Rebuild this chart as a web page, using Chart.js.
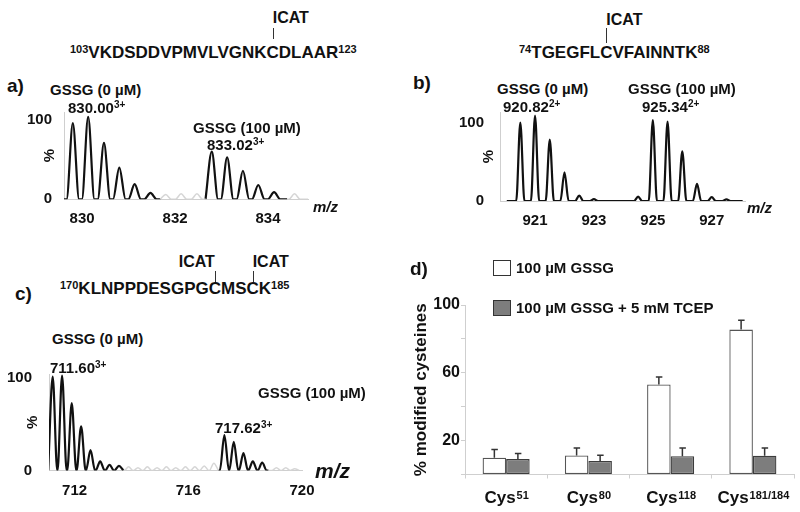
<!DOCTYPE html>
<html lang="en"><head><meta charset="utf-8"><title>ICAT labelling of cysteines</title>
<script src="https://cdn.jsdelivr.net/npm/chart.js@4.4.1/dist/chart.umd.min.js"></script>
<style>
html,body{margin:0;padding:0;background:#fff;}
body{width:800px;height:512px;position:relative;overflow:hidden;font-family:"Liberation Sans",Arial,Helvetica,sans-serif;font-weight:bold;color:#111;}
canvas{position:absolute;}
.t{position:absolute;white-space:nowrap;line-height:1;}
.f15{font-size:15px;}
.f17{font-size:17px;}
.f19{font-size:19px;}
.s{font-size:11px;position:relative;top:-4.5px;}
.m{font-size:10px;position:relative;top:-5px;}
.mk{position:relative;}
.mk .ln{position:absolute;left:50%;width:1px;background:#333;}
.mk .lb{position:absolute;font-size:16px;line-height:1;}
.mz{font-style:italic;}
.box{position:absolute;width:16px;height:14px;border:1px solid #333;}
</style></head>
<body>
<canvas id="ca" width="340" height="125" style="left:0;top:100px"></canvas>
<canvas id="cb" width="340" height="125" style="left:440px;top:100px"></canvas>
<canvas id="cc" width="360" height="140" style="left:0;top:360px"></canvas>
<canvas id="cd" width="400" height="262" style="left:400px;top:250px"></canvas>

<!-- panel a -->
<div class="t f19" style="left:7px;top:75.7px">a)</div>
<div class="t f17" style="left:70px;top:43.7px"><span class="s">103</span>VKDSDDVPMVLVGNK<span class="mk">C<i class="ln" style="top:-14.7px;height:11px"></i><span class="lb" style="left:50%;top:-32.5px">ICAT</span></span>DLAAR<span class="s">123</span></div>
<div class="t f15" style="left:50px;top:81.7px">GSSG (0 µM)</div>
<div class="t f15" style="left:68px;top:99.7px">830.00<span class="m">3+</span></div>
<div class="t f15" style="left:193px;top:119.7px">GSSG (100 µM)</div>
<div class="t f15" style="left:207px;top:136.7px">833.02<span class="m">3+</span></div>
<div class="t f15 mz" style="left:313px;top:199.2px">m/z</div>

<!-- panel b -->
<div class="t f19" style="left:413px;top:72.7px">b)</div>
<div class="t f17" style="left:519px;top:43.7px"><span class="s">74</span>TGEGFL<span class="mk">C<i class="ln" style="top:-14.7px;height:15px"></i><span class="lb" style="left:50%;top:-30.5px">ICAT</span></span>VFAINNTK<span class="s">88</span></div>
<div class="t f15" style="left:497px;top:80.7px">GSSG (0 µM)</div>
<div class="t f15" style="left:503px;top:98.7px">920.82<span class="m">2+</span></div>
<div class="t f15" style="left:628px;top:80.7px">GSSG (100 µM)</div>
<div class="t f15" style="left:642px;top:98.7px">925.34<span class="m">2+</span></div>
<div class="t f15 mz" style="left:747px;top:200.2px">m/z</div>

<!-- panel c -->
<div class="t f19" style="left:15px;top:283.7px">c)</div>
<div class="t f17" style="left:60px;top:279.7px"><span class="s">170</span>KLNPPDESGPG<span class="mk">C<i class="ln" style="top:-8px;height:11px"></i><span class="lb" style="right:50%;top:-24.8px">ICAT</span></span>MS<span class="mk">C<i class="ln" style="top:-8px;height:11px"></i><span class="lb" style="left:50%;top:-24.8px">ICAT</span></span>K<span class="s">185</span></div>
<div class="t f15" style="left:52px;top:330.7px">GSSG (0 µM)</div>
<div class="t f15" style="left:50px;top:359.7px">711.60<span class="m">3+</span></div>
<div class="t f15" style="left:258px;top:384.7px">GSSG (100 µM)</div>
<div class="t f15" style="left:215px;top:419.7px">717.62<span class="m">3+</span></div>
<div class="t mz" style="left:315px;top:459.7px;font-size:21px">m/z</div>

<!-- panel d -->
<div class="t f19" style="left:410px;top:258.7px">d)</div>
<div id="legend"></div>

<script>
// ---------- data: panel a (m/z, % intensity) ----------
const aXTicks = [830, 832, 834];
const aYTicks = [0, 100];
const aRange = [829.61, 834.86];
const a0Mz = [829.80, 830.13, 830.47, 830.80, 831.13, 831.47];
const a0Int = [96, 104, 71, 40, 19, 8];
const a100Mz = [832.79, 833.12, 833.46, 833.79, 834.13];
const a100Int = [60, 53, 36, 18, 9];
const aBg1Mz = [831.80, 832.13, 832.47];
const aBg1Int = [6, 7, 7];
const aBg2Mz = [834.57];
const aBg2Int = [7];

// ---------- data: panel b ----------
const bXTicks = [921, 923, 925, 927];
const bYTicks = [0, 100];
const bRange = [919.81, 928.13];
const bMz = [920.5, 921.0, 921.5, 922.0, 922.5, 923.0, 924.5, 925.0, 925.5, 926.0, 926.5, 927.0, 927.5];
const bInt = [101, 110, 79, 37, 7, 2.5, 5.5, 104, 102, 64, 22, 5, 2];

// ---------- data: panel c ----------
const cXTicks = [712, 716, 720];
const cYTicks = [0, 100];
const cRange = [711.1, 720.0];
const c0Mz = [711.23, 711.56, 711.90, 712.23, 712.56, 712.90, 713.23, 713.56];
const c0Int = [102, 103, 73, 48, 22, 10, 6, 5];
const c100Mz = [717.27, 717.60, 717.94, 718.27, 718.60];
const c100Int = [38.5, 31, 19, 10, 8.5];
const cBg1Mz = [713.90, 714.23, 714.56, 714.90, 715.23, 715.56, 715.90, 716.23, 716.56, 716.90];
const cBg1Int = [4, 3, 4, 3, 4, 3, 4, 4, 5, 8];
const cBg2Mz = [719.10, 719.43, 719.74];
const cBg2Int = [3, 3, 2];

// ---------- data: panel d ----------
const cysBase = 'Cys';
const cysSup = ['51', '80', '118', '181/184'];
const seriesNames = ['100 µM GSSG', '100 µM GSSG + 5 mM TCEP'];
const gssg = [9.9, 11.2, 53.1, 85.5];
const gssgErr = [4.8, 4.5, 4.4, 5.5];
const tcep = [9.1, 8.0, 10.8, 11.1];
const tcepErr = [3.3, 3.4, 4.9, 4.6];
const dYLabeled = [20, 60, 100];

// ---------- rendering ----------
const FONT = "'Liberation Sans', Arial, Helvetica, sans-serif";
const INK = '#111';
const AXIS = '#cfcfcf';
const BLACK = '#111';
const GREY = '#d6d6d6';
Chart.defaults.font.family = FONT;
Chart.defaults.font.weight = 'bold';
Chart.defaults.color = INK;

// a trace drawn as a baseline with one smooth hump per listed peak
function trace(start, end, mzs, ints, hw) {
  const pts = [];
  if (start < mzs[0] - hw - 1e-6) pts.push({x: start, y: 0});
  mzs.forEach((m, i) => { pts.push({x: m - hw, y: 0}, {x: m, y: ints[i]}, {x: m + hw, y: 0}); });
  if (end > pts[pts.length - 1].x + 1e-6) pts.push({x: end, y: 0});
  return pts;
}

function spectrum(id, o) {
  return new Chart(document.getElementById(id), {
    type: 'line',
    data: {datasets: o.traces.map(t => ({
      data: t.pts, borderColor: t.color, borderWidth: t.width, pointRadius: 0,
      fill: false, cubicInterpolationMode: 'monotone', parsing: false
    }))},
    options: {
      responsive: false, animation: false, events: [],
      layout: {padding: {left: 0, top: o.top, right: o.right, bottom: 0}},
      plugins: {legend: {display: false}, tooltip: {enabled: false}},
      scales: {
        x: {
          type: 'linear', min: o.range[0], max: o.range[1],
          afterBuildTicks: s => { s.ticks = o.xTicks.map(v => ({value: v})); },
          afterFit: s => { s.height = o.xh; s.paddingLeft = 0; s.paddingRight = 0; },
          grid: {display: false}, border: {display: true, color: AXIS, width: 1},
          ticks: {font: {size: 15, weight: 'bold'}, color: INK, padding: 3, maxRotation: 0, autoSkip: false}
        },
        y: {
          type: 'linear', min: 0, max: o.yMax,
          afterBuildTicks: s => { s.ticks = o.yTicks.map(v => ({value: v})); },
          afterFit: s => { s.width = o.yw; s.paddingTop = 0; s.paddingBottom = 0; },
          grid: {display: false}, border: {display: true, color: AXIS, width: 1},
          ticks: {font: {size: 15, weight: 'bold'}, color: INK, padding: o.yPad},
          title: {display: true, text: '%', font: {size: 15, weight: 'bold'}, color: INK, padding: {top: o.tPad, bottom: 0}}
        }
      }
    }
  });
}

spectrum('ca', {
  range: aRange, xTicks: aXTicks, yTicks: aYTicks, yMax: 110,
  top: 12, right: 32, xh: 25.7, yw: 64, yPad: 4, tPad: 41,
  traces: [
    {pts: trace(831.69, 832.66, aBg1Mz, aBg1Int, 0.12), color: GREY, width: 1.5},
    {pts: trace(834.41, 834.86, aBg2Mz, aBg2Int, 0.12), color: GREY, width: 1.5},
    {pts: trace(aRange[0], 831.69, a0Mz, a0Int, 0.135), color: BLACK, width: 2.2},
    {pts: trace(832.66, 834.41, a100Mz, a100Int, 0.135), color: BLACK, width: 2.2}
  ]
});

spectrum('cb', {
  range: bRange, xTicks: bXTicks, yTicks: bYTicks, yMax: 114.5,
  top: 12, right: 35, xh: 24, yw: 60, yPad: 8, tPad: 40,
  traces: [
    {pts: trace(920.04, 928.05, bMz, bInt, 0.14), color: BLACK, width: 2.2}
  ]
});

spectrum('cc', {
  range: cRange, xTicks: cXTicks, yTicks: cYTicks, yMax: 104.7,
  top: 14, right: 58, xh: 29.5, yw: 49, yPad: 9, tPad: 24.3,
  traces: [
    {pts: trace(713.72, 717.06, cBg1Mz, cBg1Int, 0.16), color: GREY, width: 1.5},
    {pts: trace(718.82, 719.9, cBg2Mz, cBg2Int, 0.16), color: GREY, width: 1.5},
    {pts: trace(cRange[0], 713.72, c0Mz, c0Int, 0.16), color: BLACK, width: 2.2},
    {pts: trace(717.06, 718.82, c100Mz, c100Int, 0.16), color: BLACK, width: 2.2}
  ]
});

// panel d plugins
const errorBars = {
  id: 'errorBars',
  afterDatasetsDraw(chart) {
    const {ctx} = chart;
    const y = chart.scales.y;
    chart.data.datasets.forEach((ds, di) => {
      chart.getDatasetMeta(di).data.forEach((bar, i) => {
        const yTop = y.getPixelForValue(ds.data[i] + ds.errors[i]);
        ctx.save();
        ctx.strokeStyle = '#333';
        ctx.lineWidth = 1.5;
        ctx.beginPath();
        ctx.moveTo(bar.x, bar.y);
        ctx.lineTo(bar.x, yTop);
        ctx.moveTo(bar.x - 3, yTop);
        ctx.lineTo(bar.x + 3.5, yTop);
        ctx.stroke();
        ctx.restore();
      });
    });
  }
};
const supLabels = {
  id: 'supLabels',
  afterDraw(chart) {
    const {ctx, chartArea} = chart;
    const x = chart.scales.x;
    const base = chartArea.bottom + 28.6;
    ctx.save();
    ctx.fillStyle = INK;
    ctx.textAlign = 'left';
    ctx.textBaseline = 'alphabetic';
    cysSup.forEach((sup, i) => {
      const cx = x.getPixelForValue(i);
      ctx.font = 'bold 17px ' + FONT;
      const w1 = ctx.measureText(cysBase).width;
      ctx.font = 'bold 11px ' + FONT;
      const w2 = ctx.measureText(sup).width;
      const x0 = cx - (w1 + w2) / 2;
      ctx.font = 'bold 17px ' + FONT;
      ctx.fillText(cysBase, x0, base);
      ctx.font = 'bold 11px ' + FONT;
      ctx.fillText(sup, x0 + w1 + 1, base - 4.5);
    });
    ctx.restore();
  }
};

const barStyles = [
  {bg: '#ffffff', bd: '#555555'},
  {bg: '#7d7d7d', bd: '#3c3c3c'}
];
const dChart = new Chart(document.getElementById('cd'), {
  type: 'bar',
  data: {
    labels: cysSup.map(s => cysBase + s),
    datasets: [
      {label: seriesNames[0], data: gssg, errors: gssgErr, backgroundColor: barStyles[0].bg, borderColor: barStyles[0].bd, borderWidth: 1.3, borderSkipped: false},
      {label: seriesNames[1], data: tcep, errors: tcepErr, backgroundColor: barStyles[1].bg, borderColor: barStyles[1].bd, borderWidth: 1.3, borderSkipped: false}
    ]
  },
  options: {
    responsive: false, animation: false, events: [],
    datasets: {bar: {categoryPercentage: 0.572, barPercentage: 1}},
    layout: {padding: {left: 0, top: 55, right: 6, bottom: 0}},
    plugins: {legend: {display: false}, tooltip: {enabled: false}},
    scales: {
      x: {
        afterFit: s => { s.height = 37.5; s.paddingLeft = 0; s.paddingRight = 0; },
        grid: {display: true, drawOnChartArea: false, drawTicks: true, tickLength: 4, color: AXIS, offset: true},
        border: {display: true, color: AXIS, width: 1},
        ticks: {display: false}
      },
      y: {
        min: 0, max: 100,
        afterFit: s => { s.width = 65; s.paddingTop = 0; s.paddingBottom = 0; },
        grid: {display: true, drawOnChartArea: false, drawTicks: true, tickLength: 4, color: AXIS},
        border: {display: true, color: AXIS, width: 1},
        ticks: {stepSize: 20, padding: 1, font: {size: 16, weight: 'bold'}, color: INK,
                callback: v => dYLabeled.includes(v) ? String(v) : ''},
        title: {display: true, text: '% modified cysteines', font: {size: 17, weight: 'bold'}, color: INK, padding: {top: 11.5, bottom: 0}}
      }
    }
  },
  plugins: [errorBars, supLabels]
});

// legend for panel d built from the dataset labels and colours
(function () {
  const host = document.getElementById('legend');
  const tops = [260, 299.5];
  dChart.data.datasets.forEach((ds, i) => {
    const b = document.createElement('div');
    b.className = 'box';
    b.style.left = '493px';
    b.style.top = tops[i] + 'px';
    b.style.background = ds.backgroundColor;
    b.style.borderColor = '#333';
    host.appendChild(b);
    const t = document.createElement('div');
    t.className = 't f15';
    t.style.left = '516px';
    t.style.top = (tops[i] + 0.2) + 'px';
    t.textContent = ds.label;
    host.appendChild(t);
  });
})();
</script>
</body></html>
